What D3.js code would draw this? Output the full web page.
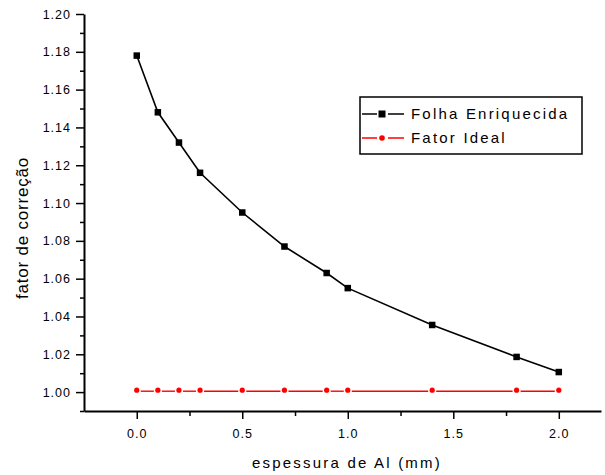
<!DOCTYPE html>
<html lang="pt">
<head>
<meta charset="UTF-8">
<title>fator de correção</title>
<script src="https://d3js.org/d3.v7.min.js"></script>
<style>
 body { margin: 0; background: #fff; }
 svg { font-family: "Liberation Sans", Arial, sans-serif; }
 .tick text { font-size: 12.5px; letter-spacing: 1px; fill: #000; }
</style>
</head>
<body>
<div id="chart"></div>
<script>
// data
const espessura = [0.0, 0.1, 0.2, 0.3, 0.5, 0.7, 0.9, 1.0, 1.4, 1.8, 2.0];
const folhaEnriquecida = [1.178, 1.148, 1.132, 1.116, 1.095, 1.077, 1.063, 1.055, 1.0355, 1.0186, 1.0106];
const fatorIdeal = [1.001, 1.001, 1.001, 1.001, 1.001, 1.001, 1.001, 1.001, 1.001, 1.001, 1.001];
const xTicks = [0.0, 0.5, 1.0, 1.5, 2.0];
const xMinor = [0.25, 0.75, 1.25, 1.75];
const yTicks = [1.00, 1.02, 1.04, 1.06, 1.08, 1.10, 1.12, 1.14, 1.16, 1.18, 1.20];
const yMinor = [0.99, 1.01, 1.03, 1.05, 1.07, 1.09, 1.11, 1.13, 1.15, 1.17, 1.19];

const width = 605, height = 475;
const svg = d3.select('#chart').append('svg')
  .attr('width', width)
  .attr('height', height);

const x = d3.scaleLinear().domain([-0.25, 2.2]).range([84, 601]);
const y = d3.scaleLinear().domain([0.99, 1.20]).range([411, 14]);

// minor ticks first, then the axes on top
svg.append('g')
  .attr('transform', 'translate(0,411)')
  .call(d3.axisBottom(x).tickValues(xMinor).tickSize(5).tickFormat(''))
  .call(g => g.select('.domain').remove())
  .selectAll('line').attr('stroke-width', 1.5);

svg.append('g')
  .attr('transform', 'translate(84,0)')
  .call(d3.axisLeft(y).tickValues(yMinor).tickSize(4).tickFormat(''))
  .call(g => g.select('.domain').remove())
  .selectAll('line').attr('stroke-width', 1.5);

const xAxis = svg.append('g')
  .attr('transform', 'translate(0,411)')
  .call(d3.axisBottom(x).tickValues(xTicks).tickSize(8).tickPadding(10).tickSizeOuter(0)
    .tickFormat(d3.format('.1f')));
xAxis.select('.domain').attr('stroke-width', 2);
xAxis.selectAll('line').attr('stroke-width', 1.5);

const yAxis = svg.append('g')
  .attr('transform', 'translate(84,0)')
  .call(d3.axisLeft(y).tickValues(yTicks).tickSize(8).tickPadding(5).tickSizeOuter(0)
    .tickFormat(d3.format('.2f')));
yAxis.select('.domain').attr('stroke-width', 2);
yAxis.selectAll('line').attr('stroke-width', 1.5);

// axis titles
svg.append('text')
  .attr('x', 347).attr('y', 468)
  .attr('text-anchor', 'middle')
  .style('font-size', '15px').style('letter-spacing', '2.2px')
  .text('espessura de Al (mm)');

svg.append('text')
  .attr('transform', 'translate(28,228) rotate(-90)')
  .attr('text-anchor', 'middle')
  .style('font-size', '17px').style('letter-spacing', '0.8px')
  .text('fator de correção');

// Fator Ideal: red line broken around each dot
const ideal = espessura.map((d, i) => ({ x: d, y: fatorIdeal[i] }));
const gap = 4;
svg.append('g').selectAll('line')
  .data(d3.pairs(ideal))
  .join('line')
  .attr('x1', d => x(d[0].x) + gap)
  .attr('x2', d => x(d[1].x) - gap)
  .attr('y1', d => y(d[0].y) + 1)
  .attr('y2', d => y(d[1].y) + 1)
  .attr('stroke', '#ff0000')
  .attr('stroke-width', 1.4);

svg.append('g').selectAll('circle')
  .data(ideal)
  .join('circle')
  .attr('cx', d => x(d.x))
  .attr('cy', d => y(d.y))
  .attr('r', 2.6)
  .attr('fill', '#ff0000');

// Folha Enriquecida
const folha = espessura.map((d, i) => ({ x: d, y: folhaEnriquecida[i] }));
svg.append('path')
  .datum(folha)
  .attr('fill', 'none')
  .attr('stroke', '#000')
  .attr('stroke-width', 1.6)
  .attr('d', d3.line().x(d => x(d.x)).y(d => y(d.y)));

const sq = 6.5;
svg.append('g').selectAll('rect')
  .data(folha)
  .join('rect')
  .attr('x', d => x(d.x) - sq / 2)
  .attr('y', d => y(d.y) - sq / 2)
  .attr('width', sq)
  .attr('height', sq)
  .attr('fill', '#000');

// legend
const legend = svg.append('g');
legend.append('rect')
  .attr('x', 360).attr('y', 97)
  .attr('width', 222).attr('height', 57)
  .attr('fill', '#fff')
  .attr('stroke', '#000')
  .attr('stroke-width', 1.5);

const items = [
  { name: 'Folha Enriquecida', color: '#000', shape: 'square' },
  { name: 'Fator Ideal', color: '#ff0000', shape: 'circle' }
];
items.forEach((it, i) => {
  const ly = 114 + i * 24;
  legend.append('line')
    .attr('x1', 362).attr('x2', 377).attr('y1', ly).attr('y2', ly)
    .attr('stroke', it.color).attr('stroke-width', 1.5);
  legend.append('line')
    .attr('x1', 388).attr('x2', 404).attr('y1', ly).attr('y2', ly)
    .attr('stroke', it.color).attr('stroke-width', 1.5);
  if (it.shape === 'square') {
    legend.append('rect')
      .attr('x', 382 - 3.5).attr('y', ly - 3.5)
      .attr('width', 7).attr('height', 7)
      .attr('fill', it.color);
  } else {
    legend.append('circle')
      .attr('cx', 382).attr('cy', ly).attr('r', 2.8)
      .attr('fill', it.color);
  }
  legend.append('text')
    .attr('x', 411).attr('y', ly + 5)
    .style('font-size', '15px').style('letter-spacing', '2.2px')
    .text(it.name);
});
</script>
</body>
</html>
